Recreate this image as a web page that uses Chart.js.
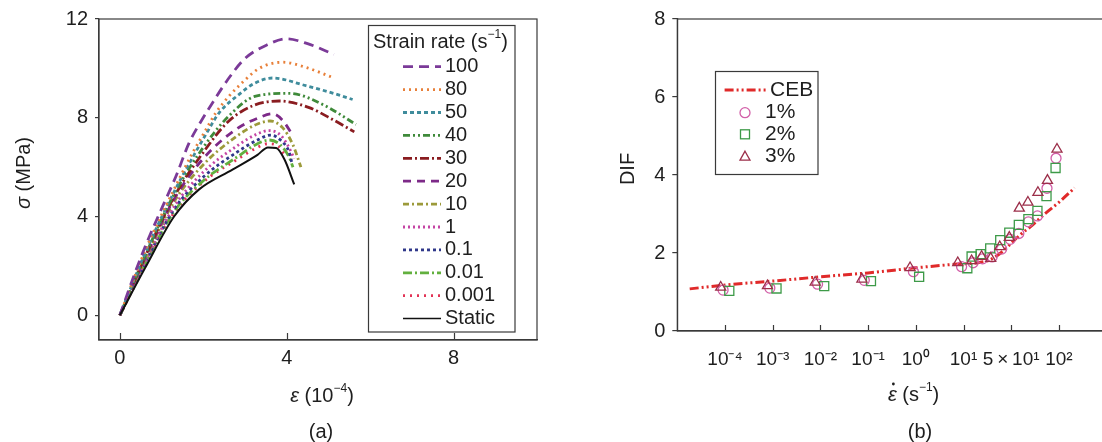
<!DOCTYPE html>
<html>
<head>
<meta charset="utf-8">
<script src="https://cdn.jsdelivr.net/npm/chart.js@4.4.1/dist/chart.umd.min.js"></script>
<style>
html, body { margin: 0; padding: 0; background: #fff; overflow: hidden; }
#wrap { position: relative; width: 1102px; height: 442px; overflow: hidden; background: #fff; }
canvas { position: absolute; top: 0; }
</style>
</head>
<body>
<div id="wrap">
	<canvas id="stressChart" width="560" height="442" style="left:0"></canvas>
	<canvas id="difChart" width="560" height="442" style="left:560px"></canvas>
</div>
<script>
/* (a) stress-strain curves: strain (1e-4), stress (MPa)
------------------------------------------------ */
var rateLabels = ['100', '80', '50', '40', '30', '20', '10', '1', '0.1', '0.01', '0.001', 'Static'];
var curve100 = [[0,0],[0.38,1.8],[0.7,3.16],[1.02,4.39],[1.34,5.61],[1.66,6.98],[1.94,7.84],[2.26,8.71],[2.58,9.53],[3.0,10.4],[3.5,10.93],[4.0,11.2],[4.5,11.0],[5.0,10.66],[5.13,10.56]];
var curve80 = [[0,0],[0.6,2.6],[1.3,5.1],[1.74,6.57],[2.02,7.39],[2.3,8.2],[2.62,8.88],[2.86,9.3],[3.34,10.0],[3.9,10.25],[4.46,10.04],[5.06,9.66]];
var curve50 = [[0,0],[0.6,2.5],[1.3,5.0],[1.78,6.5],[2.06,7.32],[2.38,8.2],[2.86,8.95],[3.22,9.39],[3.66,9.61],[4.46,9.3],[5.1,9.0],[5.58,8.74]];
var curve40 = [[0,0],[0.6,2.4],[1.3,4.9],[2.0,6.8],[2.6,8.05],[3.26,8.88],[4.06,8.99],[4.86,8.54],[5.66,7.73]];
var curve30 = [[0,0],[0.6,2.35],[1.3,4.8],[2.0,6.6],[2.6,7.85],[3.18,8.48],[3.82,8.68],[4.54,8.41],[5.1,7.93],[5.62,7.43]];
var curve20 = [[0,0],[0.6,2.3],[1.3,4.7],[2.0,6.35],[2.8,7.55],[3.3,7.98],[3.66,8.16],[3.9,7.9],[4.14,7.3]];
var curve10 = [[0,0],[0.6,2.25],[1.3,4.6],[2.0,6.1],[2.8,7.25],[3.3,7.75],[3.6,7.87],[3.9,7.6],[4.15,6.9],[4.34,6.0]];
var curve1 = [[0,0],[0.6,2.15],[1.3,4.4],[2.0,5.8],[2.8,6.85],[3.3,7.35],[3.58,7.48],[3.85,7.3],[4.02,6.9],[4.18,6.35]];
var curve01 = [[0,0],[0.6,2.1],[1.3,4.3],[2.0,5.6],[2.8,6.6],[3.3,7.1],[3.62,7.3],[3.85,7.1],[4.06,6.6],[4.12,6.2]];
var curve001 = [[0,0],[0.6,2.05],[1.3,4.2],[2.0,5.45],[2.8,6.4],[3.3,6.95],[3.58,7.1],[3.85,6.9],[4.06,6.4],[4.15,6.0]];
var curve0001 = [[0,0],[0.6,2.0],[1.3,4.15],[2.0,5.4],[2.8,6.3],[3.3,6.8],[3.55,6.95],[3.8,6.85],[3.98,6.4]];
var curveStatic = [[0,0],[0.6,1.9],[1.3,4.0],[1.9,5.1],[2.7,5.9],[3.3,6.5],[3.55,6.8],[3.75,6.78],[3.95,6.3],[4.18,5.3]];
var stressXTicks = [0, 4, 8];
var stressYTicks = [0, 4, 8, 12];

/* (b) DIF vs strain rate (positions on the evenly spaced rate axis)
------------------------------------------------ */
var rateTickLabels = ['10\u207B\u2074', '10\u207B\u00B3', '10\u207B\u00B2', '10\u207B\u00B9', '10\u2070', '10\u00B9', '5\u2009\u00D7\u200910\u00B9', '10\u00B2'];
var difYTicks = [0, 2, 4, 6, 8];
var cebX = [-0.74, 0, 1, 2, 3, 4, 4.8, 5.5, 5.8, 6.0, 6.2, 6.4, 6.7, 7.0, 7.33];
var cebY = [1.08, 1.18, 1.28, 1.39, 1.49, 1.62, 1.71, 1.80, 2.02, 2.25, 2.48, 2.67, 3.0, 3.3, 3.67];
var pct1X = [-0.04, 0.94, 1.94, 2.92, 3.95, 4.96, 5.2, 5.4, 5.6, 5.8, 5.98, 6.16, 6.36, 6.55, 6.75, 6.94];
var pct1Y = [1.05, 1.1, 1.2, 1.3, 1.52, 1.65, 1.75, 1.85, 1.9, 2.1, 2.35, 2.5, 2.8, 2.95, 3.66, 4.43];
var pct2X = [0.09, 1.08, 2.08, 3.06, 4.07, 5.08, 5.17, 5.36, 5.56, 5.77, 5.96, 6.16, 6.36, 6.55, 6.74, 6.93];
var pct2Y = [1.03, 1.09, 1.15, 1.28, 1.39, 1.61, 1.91, 1.97, 2.12, 2.33, 2.52, 2.72, 2.87, 3.08, 3.46, 4.18];
var pct3X = [-0.09, 0.89, 1.89, 2.87, 3.88, 4.88, 5.17, 5.38, 5.57, 5.76, 5.96, 6.17, 6.35, 6.56, 6.76, 6.96];
var pct3Y = [1.12, 1.16, 1.25, 1.33, 1.62, 1.75, 1.80, 1.91, 1.86, 2.16, 2.40, 3.15, 3.30, 3.55, 3.86, 4.66];

var FONT = '"Liberation Sans", Arial, Helvetica, sans-serif';
var TEXT = '#1e1e1e';
var AXIS = '#3a3a3a';

var curveStyles = [
	{ color: '#7b3a98', dash: [10, 6] },
	{ color: '#e8803a', dash: [2, 4] },
	{ color: '#3f8c9c', dash: [4, 3] },
	{ color: '#3f8a3a', dash: [7, 3, 2, 3, 2, 3] },
	{ color: '#8a1c20', dash: [9, 3, 2, 3] },
	{ color: '#7d2a88', dash: [8, 6] },
	{ color: '#9c9a3a', dash: [6, 3, 2, 3] },
	{ color: '#c444a4', dash: [2, 3] },
	{ color: '#30388a', dash: [3, 3] },
	{ color: '#62b03e', dash: [9, 3, 2, 3] },
	{ color: '#e23456', dash: [2, 5] },
	{ color: '#111111', dash: [] }
];
var CEB_COLOR = '#e02a2a', CEB_DASH = [9, 3, 2, 3, 2, 3];
var P1_COLOR = '#d25fa8', P2_COLOR = '#3d9a48', P3_COLOR = '#9c2f4a';

function toPoints(xs, ys) {
	return xs.map(function(x, i) { return { x: x, y: ys[i] }; });
}
function pairPoints(arr) {
	return arr.map(function(p) { return { x: p[0], y: p[1] }; });
}

function partFont(p, size) {
	var s = p[1] === 's' ? Math.round(size * 0.62) : size;
	var it = (p[1] === 'i' || p[1] === 'd') ? 'italic ' : '';
	return it + s + 'px ' + FONT;
}
// draw text made of parts: [text, style] ; style 'i' italic, 's' superscript, 'd' italic with dot
function richText(ctx, parts, x, y, size, align) {
	var w = 0;
	parts.forEach(function(p) { ctx.font = partFont(p, size); w += ctx.measureText(p[0]).width; });
	var cx = align === 'center' ? x - w / 2 : x;
	ctx.textAlign = 'left';
	ctx.textBaseline = 'middle';
	parts.forEach(function(p) {
		ctx.font = partFont(p, size);
		var pw = ctx.measureText(p[0]).width;
		var dy = p[1] === 's' ? -size * 0.36 : 0;
		ctx.fillText(p[0], cx, y + dy);
		if (p[1] === 'd') {
			ctx.beginPath();
			ctx.arc(cx + pw * 0.62, y - size * 0.55, 1.4, 0, Math.PI * 2);
			ctx.fill();
		}
		cx += pw;
	});
}

var framePlugin = {
	id: 'frame',
	afterDraw: function(chart) {
		var a = chart.chartArea, ctx = chart.ctx;
		ctx.save();
		ctx.strokeStyle = AXIS;
		ctx.lineWidth = 1.2;
		ctx.strokeRect(a.left, a.top, a.right - a.left, a.bottom - a.top);
		ctx.restore();
	}
};

function innerTicks(len) {
	return {
		id: 'innerTicks',
		afterDraw: function(chart) {
			var ctx = chart.ctx, xs = chart.scales.x, b = chart.chartArea.bottom;
			ctx.save();
			ctx.strokeStyle = AXIS;
			ctx.lineWidth = 1.2;
			xs.ticks.forEach(function(t) {
				var px = Math.round(xs.getPixelForValue(t.value)) + 0.5;
				ctx.beginPath();
				ctx.moveTo(px, b);
				ctx.lineTo(px, b - len);
				ctx.stroke();
			});
			ctx.restore();
		}
	};
}

var stressText = {
	id: 'stressText',
	afterDraw: function(chart) {
		var ctx = chart.ctx;
		ctx.save();
		ctx.fillStyle = TEXT;
		// axis titles
		ctx.save();
		ctx.translate(24, 173);
		ctx.rotate(-Math.PI / 2);
		richText(ctx, [['\u03C3', 'i'], [' (MPa)', '']], 0, 0, 20, 'center');
		ctx.restore();
		richText(ctx, [['\u03B5', 'i'], [' (10', ''], ['\u22124', 's'], [')', '']], 322, 396, 20, 'center');
		richText(ctx, [['(a)', '']], 321, 432, 20, 'center');
		// legend
		ctx.fillStyle = '#fff';
		ctx.fillRect(368.5, 25.5, 146.5, 306.5);
		ctx.strokeStyle = AXIS;
		ctx.lineWidth = 1.2;
		ctx.strokeRect(368.5, 25.5, 146.5, 306.5);
		ctx.fillStyle = TEXT;
		richText(ctx, [['Strain rate (s', ''], ['\u22121', 's'], [')', '']], 373, 42, 20, 'left');
		rateLabels.forEach(function(lab, i) {
			var y = 66.7 + i * 22.9;
			var st = curveStyles[i];
			ctx.beginPath();
			ctx.setLineDash(st.dash);
			ctx.strokeStyle = st.color;
			ctx.lineWidth = i === 11 ? 1.5 : 2.8;
			ctx.moveTo(403, y);
			ctx.lineTo(441, y);
			ctx.stroke();
			ctx.setLineDash([]);
			ctx.fillStyle = TEXT;
			richText(ctx, [[lab, '']], 445, y, 20, 'left');
		});
		ctx.restore();
	}
};

var difText = {
	id: 'difText',
	afterDraw: function(chart) {
		var ctx = chart.ctx, ox = 560;
		ctx.save();
		ctx.fillStyle = TEXT;
		ctx.save();
		ctx.translate(628 - ox, 169);
		ctx.rotate(-Math.PI / 2);
		richText(ctx, [['DIF', '']], 0, 0, 20, 'center');
		ctx.restore();
		richText(ctx, [['\u03B5', 'd'], [' (s', ''], ['\u22121', 's'], [')', '']], 913.6 - ox, 395, 20, 'center');
		richText(ctx, [['(b)', '']], 920 - ox, 432, 20, 'center');
		// legend
		ctx.fillStyle = '#fff';
		ctx.fillRect(715.5 - ox, 71.5, 102.5, 103);
		ctx.strokeStyle = AXIS;
		ctx.lineWidth = 1.2;
		ctx.strokeRect(715.5 - ox, 71.5, 102.5, 103);
		ctx.beginPath();
		ctx.setLineDash(CEB_DASH);
		ctx.strokeStyle = CEB_COLOR;
		ctx.lineWidth = 3;
		ctx.moveTo(724.6 - ox, 90);
		ctx.lineTo(766 - ox, 90);
		ctx.stroke();
		ctx.setLineDash([]);
		ctx.fillStyle = TEXT;
		richText(ctx, [['CEB', '']], 770 - ox, 90, 21, 'left');
		var mx = 745 - ox;
		ctx.lineWidth = 1.3;
		ctx.strokeStyle = P1_COLOR;
		ctx.beginPath();
		ctx.arc(mx, 112.7, 5, 0, Math.PI * 2);
		ctx.stroke();
		ctx.strokeStyle = P2_COLOR;
		ctx.strokeRect(mx - 4.5, 134.3 - 4.5, 9, 9);
		ctx.strokeStyle = P3_COLOR;
		ctx.beginPath();
		ctx.moveTo(mx, 156.7 - 5.5);
		ctx.lineTo(mx + 5, 156.7 + 3.5);
		ctx.lineTo(mx - 5, 156.7 + 3.5);
		ctx.closePath();
		ctx.stroke();
		richText(ctx, [['1%', '']], 765 - ox, 112.7, 21, 'left');
		richText(ctx, [['2%', '']], 765 - ox, 134.3, 21, 'left');
		richText(ctx, [['3%', '']], 765 - ox, 156.7, 21, 'left');
		ctx.restore();
	}
};

Chart.defaults.font.family = FONT;
Chart.defaults.color = TEXT;
Chart.defaults.animation = false;
Chart.defaults.plugins.legend.display = false;
Chart.defaults.plugins.tooltip.enabled = false;

var curves = [curve100, curve80, curve50, curve40, curve30, curve20, curve10, curve1, curve01, curve001, curve0001, curveStatic];

var stressChart = new Chart(document.getElementById('stressChart'), {
	type: 'scatter',
	data: {
		datasets: curves.map(function(c, i) {
			return {
				label: rateLabels[i],
				data: pairPoints(c),
				showLine: true,
				borderColor: curveStyles[i].color,
				borderDash: curveStyles[i].dash,
				borderWidth: i === 11 ? 2 : 2.8,
				pointRadius: 0,
				cubicInterpolationMode: 'monotone',
				order: i === 11 ? 0 : i + 1
			};
		})
	},
	options: {
		responsive: false,
		devicePixelRatio: 1,
		layout: { padding: { top: 19, right: 23, left: 0, bottom: 0 } },
		scales: {
			x: {
				type: 'linear', min: -0.5, max: 10,
				afterBuildTicks: function(s) { s.ticks = stressXTicks.map(function(v) { return { value: v }; }); },
				afterFit: function(s) { s.height = 102; },
				ticks: { font: { size: 20 }, color: TEXT, padding: 6, maxRotation: 0, autoSkip: false },
				grid: { drawOnChartArea: false, drawTicks: false },
				border: { color: AXIS, width: 1.2 }
			},
			y: {
				type: 'linear', min: -1, max: 12,
				afterBuildTicks: function(s) { s.ticks = stressYTicks.map(function(v) { return { value: v }; }); },
				afterFit: function(s) { s.width = 99; },
				ticks: { font: { size: 20 }, color: TEXT, padding: 7 },
				grid: { drawOnChartArea: false, drawTicks: true, tickLength: 4, color: AXIS, lineWidth: 1.2 },
				border: { color: AXIS, width: 1.2 }
			}
		}
	},
	plugins: [framePlugin, innerTicks(7), stressText]
});

var difChart = new Chart(document.getElementById('difChart'), {
	type: 'scatter',
	data: {
		datasets: [{
			label: 'CEB',
			data: toPoints(cebX, cebY),
			showLine: true,
			borderColor: CEB_COLOR,
			borderDash: CEB_DASH,
			borderWidth: 3,
			pointRadius: 0,
			cubicInterpolationMode: 'monotone',
			order: 4
		}, {
			label: '1%',
			data: toPoints(pct1X, pct1Y),
			pointStyle: 'circle',
			pointRadius: 5,
			borderColor: P1_COLOR,
			backgroundColor: 'rgba(0,0,0,0)',
			borderWidth: 1.3,
			order: 3
		}, {
			label: '2%',
			data: toPoints(pct2X, pct2Y),
			pointStyle: 'rect',
			pointRadius: 6.4,
			borderColor: P2_COLOR,
			backgroundColor: 'rgba(0,0,0,0)',
			borderWidth: 1.3,
			order: 2
		}, {
			label: '3%',
			data: toPoints(pct3X, pct3Y),
			pointStyle: 'triangle',
			pointRadius: 5.8,
			borderColor: P3_COLOR,
			backgroundColor: 'rgba(0,0,0,0)',
			borderWidth: 1.3,
			order: 1
		}]
	},
	options: {
		responsive: false,
		devicePixelRatio: 1,
		layout: { padding: { top: 19, right: 13.4, left: 0, bottom: 0 } },
		scales: {
			x: {
				type: 'linear', min: -1, max: 8,
				afterBuildTicks: function(s) { s.ticks = rateTickLabels.map(function(l, i) { return { value: i }; }); },
				afterFit: function(s) { s.height = 111; },
				ticks: {
					font: { size: 19 }, color: TEXT, padding: 17, maxRotation: 0, autoSkip: false,
					callback: function(v) { return rateTickLabels[v]; }
				},
				grid: { drawOnChartArea: false, drawTicks: false },
				border: { color: AXIS, width: 1.2 }
			},
			y: {
				type: 'linear', min: 0, max: 8,
				afterBuildTicks: function(s) { s.ticks = difYTicks.map(function(v) { return { value: v }; }); },
				afterFit: function(s) { s.width = 117.3; },
				ticks: { font: { size: 20 }, color: TEXT, padding: 7 },
				grid: { drawOnChartArea: false, drawTicks: true, tickLength: 5, color: AXIS, lineWidth: 1.2 },
				border: { color: AXIS, width: 1.2 }
			}
		}
	},
	plugins: [framePlugin, innerTicks(6), difText]
});
</script>
</body>
</html>
